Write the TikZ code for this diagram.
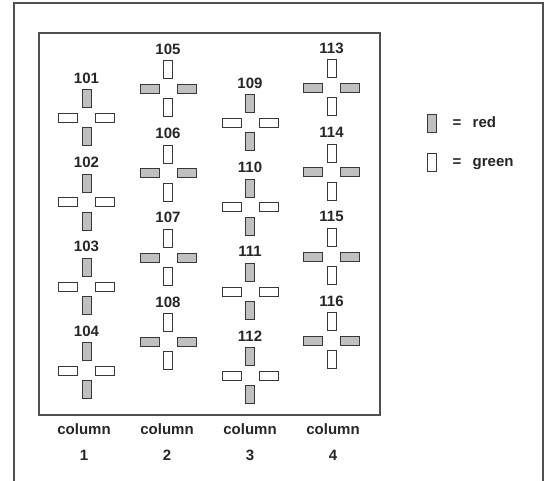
\documentclass[tikz,border=0pt]{standalone}
\usepackage{fontspec}
\setmainfont{Liberation Sans}
\definecolor{redfill}{HTML}{C0C0C0}
\definecolor{framecol}{HTML}{505050}
\definecolor{barline}{HTML}{383838}
\tikzset{
  lab/.style={font=\bfseries\fontsize{15}{17}\selectfont, inner sep=0pt, text=black!85},
  bar/.style={draw=barline, line width=1pt, inner sep=0pt},
  vbar/.style={bar, minimum width=9pt, minimum height=18pt},
  hbar/.style={bar, minimum width=19pt, minimum height=9pt},
  redbar/.style={fill=redfill},
  greenbar/.style={fill=white},
  frame/.style={draw=framecol, line width=1.6pt}
}
\begin{document}
\begin{tikzpicture}[x=1pt,y=-1pt]
\useasboundingbox (0,0) rectangle (544,481);
\fill[white] (0,0) rectangle (544,481);
% outer frame (open at bottom)
\coordinate (o1) at (14,481);
\coordinate (o2) at (14,3);
\coordinate (o3) at (543,3);
\coordinate (o4) at (543,481);
\draw[frame] (o1) -- (o2) -- (o3) -- (o4);
% inner box
\node[frame, draw, minimum width=341pt, minimum height=382pt, inner sep=0pt, line width=1.4pt] (box) at (209.5,224) {};
% crosses
\foreach \x/\ys/\first/\vs/\hs in {86.5/78/101/redbar/greenbar, 168/49/105/greenbar/redbar, 250/83/109/redbar/greenbar, 331.5/48/113/greenbar/redbar}{
  \foreach \i in {0,1,2,3}{
    \pgfmathsetmacro\ly{\ys+\i*84.3}
    \pgfmathtruncatemacro\num{\first+\i}
    \node[lab] (l\num) at (\x,\ly) {\num};
    \node[vbar,\vs] (t\num) at (\x,\ly+21) {};
    \node[vbar,\vs] (b\num) at (\x,\ly+59) {};
    \node[hbar,\hs] (w\num) at (\x-18.5,\ly+40) {};
    \node[hbar,\hs] (e\num) at (\x+18.5,\ly+40) {};
  }
}
% legend
\node[vbar,redbar] (kred) at (432,123.5) {};
\node[vbar,greenbar] (kgreen) at (432,162.5) {};
\node[lab, anchor=base] (eqr) at (457,128) {=};
\node[lab, anchor=base west] (tred) at (472.5,128) {red};
\node[lab, anchor=base] (eqg) at (457,167) {=};
\node[lab, anchor=base west] (tgreen) at (472.5,167) {green};
% column labels
\foreach \x/\c in {84/1, 167/2, 250/3, 333/4}{
  \node[lab] (col\c) at (\x,429) {column};
  \node[lab] (num\c) at (\x,455) {\c};
}
\end{tikzpicture}
\end{document}
